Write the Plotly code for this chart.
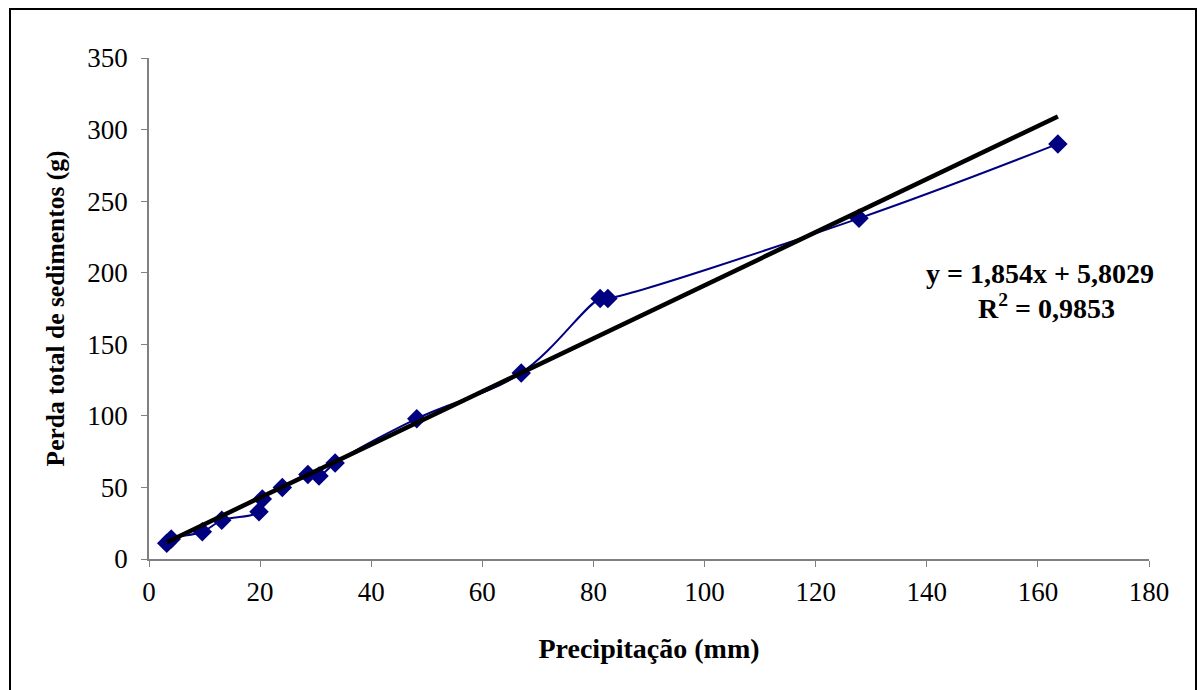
import plotly.graph_objects as go

# Data
precip_mm = [3.2, 4.0, 9.6, 13.1, 19.8, 20.4, 24.0, 28.6, 30.6, 33.5, 48.2, 67.0, 81.2, 82.6, 127.8, 163.6]
sed_loss_g = [11, 14, 19, 27, 33, 42, 50, 59, 58, 67, 98, 130, 182, 182, 238, 290]

slope = 1.854
intercept = 5.8029
r2_text = "0,9853"
eq_text = "y = 1,854x + 5,8029"

x_ticks = [0, 20, 40, 60, 80, 100, 120, 140, 160, 180]
y_ticks = [0, 50, 100, 150, 200, 250, 300, 350]

trend_x = [min(precip_mm), max(precip_mm)]
trend_y = [slope * v + intercept for v in trend_x]

FONT = "Liberation Serif, Times New Roman, serif"

fig = go.Figure()
fig.add_trace(go.Scatter(
    x=precip_mm, y=sed_loss_g, mode="lines+markers",
    line=dict(color="#000080", width=2, shape="spline", smoothing=1.1),
    marker=dict(symbol="diamond", size=15, color="#000080"),
    showlegend=False, hoverinfo="x+y"))
fig.add_trace(go.Scatter(
    x=trend_x, y=trend_y, mode="lines",
    line=dict(color="black", width=4.5),
    showlegend=False))

fig.update_layout(
    width=1197, height=690,
    margin=dict(l=149, r=48, t=58, b=131),
    paper_bgcolor="white", plot_bgcolor="white",
    font=dict(family=FONT, color="black"),
    xaxis=dict(range=[0, 180], tickvals=x_ticks, ticks="outside", ticklen=6,
               tickcolor="#808080", showline=True, linecolor="#808080", linewidth=1.5,
               showgrid=False, zeroline=False, tickfont=dict(size=27, family=FONT),
               ticklabelstandoff=2,
               title=dict(text="<b>Precipitação (mm)</b>", font=dict(size=28, family=FONT), standoff=32)),
    yaxis=dict(range=[0, 350], tickvals=y_ticks, ticks="outside", ticklen=6,
               tickcolor="#808080", showline=True, linecolor="#808080", linewidth=1.5,
               showgrid=False, zeroline=False, tickfont=dict(size=27, family=FONT),
               ticklabelstandoff=8,
               title=dict(text="<b>Perda total de sedimentos (g)</b>", font=dict(size=25.5, family=FONT), standoff=15)),
)
fig.add_annotation(x=(1040 - 149) / 1000, y=(559 - 273) / 501, xref="paper", yref="paper",
                   text="<b>" + eq_text + "</b>", showarrow=False,
                   font=dict(size=28, family=FONT, color="black"), xanchor="center", yanchor="middle")
fig.add_annotation(x=(1046 - 149) / 1000, y=(559 - 306) / 501, xref="paper", yref="paper",
                   text="<b>R<sup>2</sup> = " + r2_text + "</b>", showarrow=False,
                   font=dict(size=28, family=FONT, color="black"), xanchor="center", yanchor="middle")

# outer chart frame
fig.add_shape(type="rect", xref="paper", yref="paper",
              x0=(10 - 149) / 1000, x1=(1196 - 149) / 1000,
              y0=(559 - 700) / 501, y1=(559 - 9) / 501,
              line=dict(color="black", width=2), fillcolor="rgba(0,0,0,0)", layer="below")

fig.write_html("out.html")
